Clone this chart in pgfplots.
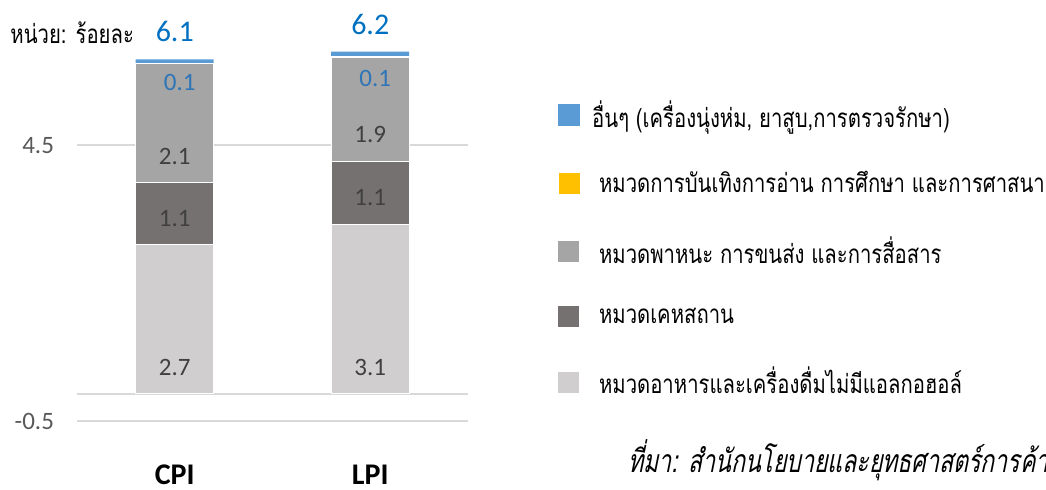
\documentclass[border=0pt]{standalone}
\usepackage{pgfplots}
\pgfplotsset{compat=1.18}
\usepackage{fontspec}
\setmainfont{Carlito}
\newfontfamily\thai[Script=Thai,FakeStretch=0.78]{Loma}
\newfontfamily\thaiit[Script=Thai,FakeSlant=0.2,FakeStretch=0.72]{Loma}
\definecolor{cOther}{HTML}{5B9BD5}
\definecolor{cRec}{HTML}{FFC000}
\definecolor{cTrans}{HTML}{A5A5A5}
\definecolor{cHouse}{HTML}{767171}
\definecolor{cFood}{HTML}{D0CECE}
\definecolor{cGrid}{HTML}{D9D9D9}
\definecolor{cTick}{HTML}{595959}
\definecolor{cLab}{HTML}{404040}
\definecolor{cBlue}{HTML}{0070C0}
\definecolor{cBlue2}{HTML}{2E75B6}
\begin{document}
\begin{tikzpicture}[x=1pt,y=1pt]
\path[use as bounding box] (0,0) rectangle (523,245);
\begin{axis}[
  at={(38.5pt,20.5pt)}, anchor=south west, scale only axis,
  width=195.5pt, height=207pt,
  xmin=-0.5, xmax=1.5, ymin=-1, ymax=6.5,
  ybar stacked, bar width=39pt,
  axis line style={draw=none}, tick style={draw=none},
  xtick={0,1}, xticklabels={CPI,LPI},
  xticklabel style={font=\bfseries\fontsize{15}{15}\selectfont, text=black, yshift=-4.5pt},
  ytick={-0.5,4.5}, extra y ticks={0}, extra y tick labels={},
  extra y tick style={grid=major},
  yticklabel style={font=\fontsize{12.5}{12.5}\selectfont, text=cTick, xshift=-8pt},
  yticklabel={\pgfmathprintnumber[fixed,precision=1,fixed zerofill]{\tick}},
  /pgf/number format/assume math mode=true,
  ymajorgrids, grid style={cGrid, line width=1pt},
  legend image code/.code={\fill[#1] (0pt,-5.5pt) rectangle (11pt,5.5pt);},
  reverse legend,
  legend cell align=left,
  legend style={at={(1.2276,0.853)}, anchor=north west, draw=none, fill=none,
    inner sep=0pt, font=\thai\fontsize{13}{13}\selectfont, row sep=16.6pt,
    /tikz/every odd column/.append style={column sep=4pt}},
]
\addplot[fill=cFood, draw=white, line width=0.4pt] coordinates {(0,2.71) (1,3.07)};
\addlegendentry{\ หมวดอาหารและเครื่องดื่มไม่มีแอลกอฮอล์}
\addplot[fill=cHouse, draw=white, line width=0.4pt] coordinates {(0,1.12) (1,1.14)};
\addlegendentry{\ หมวดเคหสถาน}
\addplot[fill=cTrans, draw=white, line width=0.4pt] coordinates {(0,2.15) (1,1.88)};
\addlegendentry{\ หมวดพาหนะ การขนส่ง และการสื่อสาร}
\addplot[fill=cRec, draw=white, line width=0.2pt] coordinates {(0,0.01) (1,0.02)};
\addlegendentry{\ หมวดการบันเทิงการอ่าน การศึกษา และการศาสนา}
\addplot[fill=cOther, draw=none] coordinates {(0,0.07) (1,0.09)};
\addlegendentry{อื่นๆ (เครื่องนุ่งห่ม, ยาสูบ,การตรวจรักษา)}
\end{axis}
\begin{axis}[
  at={(38.5pt,20.5pt)}, anchor=south west, scale only axis,
  width=195.5pt, height=207pt,
  xmin=-0.5, xmax=1.5, ymin=-1, ymax=6.5,
  hide axis, clip=false,
  nodes near coords, point meta=explicit symbolic,
  every node near coord/.append style={anchor=center},
]
\addplot[draw=none, nodes near coords style={font=\fontsize{12.5}{12.5}\selectfont, text=cLab}]
  coordinates {(0,0.47)[2.7] (1,0.47)[3.1] (0,3.18)[1.1] (1,3.55)[1.1] (0,4.30)[2.1] (1,4.69)[1.9]};
\addplot[draw=none, nodes near coords style={font=\fontsize{12.5}{12.5}\selectfont, text=cBlue2, xshift=2.5pt}]
  coordinates {(0,5.64)[0.1] (1,5.71)[0.1]};
\addplot[draw=none, nodes near coords style={font=\fontsize{15}{15}\selectfont, text=cBlue}]
  coordinates {(0,6.56)[6.1] (1,6.69)[6.2]};
\end{axis}
\node[anchor=west, font=\thai\fontsize{13}{13}\selectfont, inner sep=0pt] at (5,228.5) {หน่วย: ร้อยละ};
\node[anchor=west, font=\thaiit\fontsize{16}{16}\selectfont, inner sep=0pt] at (314,15) {ที่มา: สำนักนโยบายและยุทธศาสตร์การค้า};
\end{tikzpicture}
\end{document}
